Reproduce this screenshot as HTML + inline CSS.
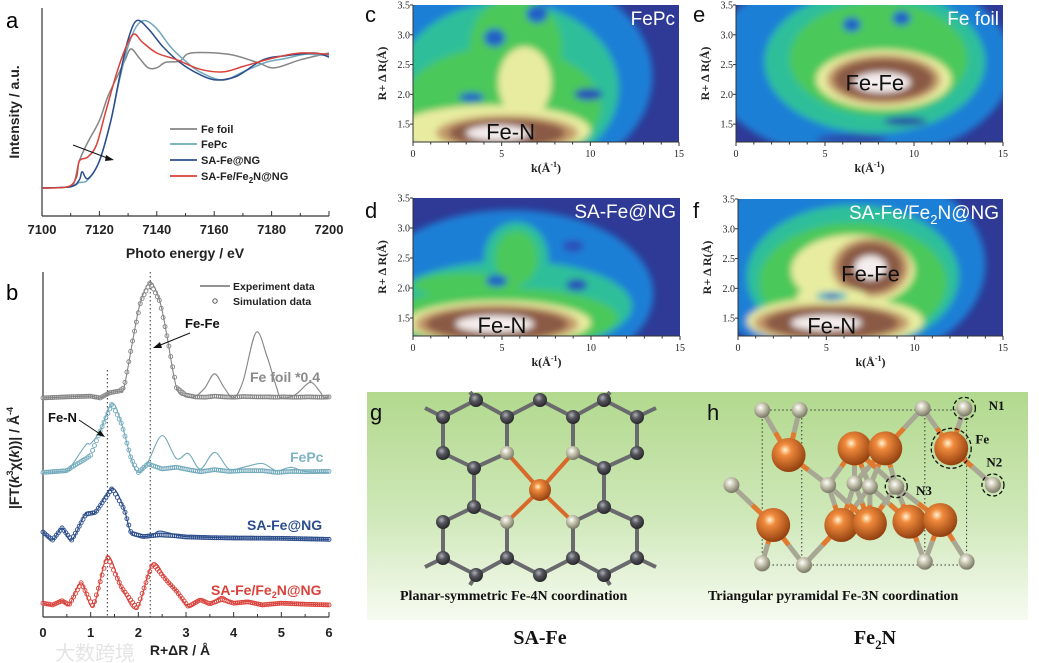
<!DOCTYPE html>
<html><head><meta charset="utf-8"><style>
html,body{margin:0;padding:0;background:#fff;}
svg{display:block;font-family:"Liberation Sans",sans-serif;}
</style></head><body>
<svg id="fig" width="1039" height="663" viewBox="0 0 1039 663" xmlns="http://www.w3.org/2000/svg">
<defs>
<filter id="blur" x="-20%" y="-20%" width="140%" height="140%"><feGaussianBlur stdDeviation="3.5"/></filter>
<linearGradient id="greenbg" x1="0" y1="0" x2="0" y2="1">
<stop offset="0" stop-color="#b2d98e"/><stop offset="0.55" stop-color="#cfe8b9"/><stop offset="1" stop-color="#f7fbf2"/></linearGradient>
<radialGradient id="feball" cx="0.4" cy="0.35" r="0.7"><stop offset="0" stop-color="#fff3d0"/><stop offset="0.25" stop-color="#f08a3c"/><stop offset="1" stop-color="#8a3a0c"/></radialGradient>
<radialGradient id="nball" cx="0.4" cy="0.35" r="0.7"><stop offset="0" stop-color="#ffffff"/><stop offset="0.4" stop-color="#c8c6b0"/><stop offset="1" stop-color="#6e6c5c"/></radialGradient>
<radialGradient id="cball" cx="0.4" cy="0.35" r="0.7"><stop offset="0" stop-color="#b0b0b8"/><stop offset="0.4" stop-color="#55555c"/><stop offset="1" stop-color="#202024"/></radialGradient>
</defs>
<g id="panelA"></g>
<g id="panelB"></g>
<g id="heat"></g>
<g id="models"></g>
</svg>
<script>
// ---------- Panel a data ----------
const aFeFoilE=[7100,7108,7111,7113,7116,7120,7123,7127,7129,7131,7134,7137,7140,7143,7148,7152,7165,7175,7181,7190,7200];
const aFeFoilV=[0,0.005,0.03,0.2,0.34,0.5,0.68,0.86,0.95,1.03,0.96,0.89,0.89,0.93,0.94,1.0,0.99,0.93,0.89,0.95,1.0];
const aFePcE=[7100,7110,7113,7116,7120,7124,7127,7130,7133,7136,7140,7145,7150,7155,7163,7170,7178,7185,7192,7200];
const aFePcV=[0,0.01,0.04,0.06,0.2,0.5,0.8,1.05,1.2,1.24,1.18,1.04,0.94,0.86,0.8,0.86,0.93,0.96,0.99,0.98];
const aSAE=[7100,7110,7113,7114,7116,7120,7124,7127,7130,7133,7137,7142,7148,7155,7161,7168,7177,7185,7195,7200];
const aSAV=[0,0.01,0.06,0.12,0.07,0.2,0.5,0.82,1.1,1.24,1.18,1.05,0.93,0.84,0.8,0.83,0.95,0.98,1.0,0.97];
const aRedE=[7100,7109,7112,7113,7116,7119,7122,7126,7129,7132,7135,7140,7147,7155,7163,7170,7180,7190,7200];
const aRedV=[0,0.01,0.08,0.2,0.23,0.32,0.55,0.85,1.03,1.14,1.08,1.0,0.95,0.88,0.86,0.9,0.96,1.0,0.99];
const aTicks=[7100,7120,7140,7160,7180,7200];
// ---------- Panel b data ----------
const bFoilR=[0,0.5,1.0,1.2,1.4,1.6,1.7,1.9,2.05,2.25,2.45,2.6,2.8,3.0,3.2,3.4,3.6,3.8,4.0,4.2,4.47,4.7,4.9,5.0,5.3,5.6,5.8,5.9,6.0];
const bFoilExp=[0,0.3,0.5,0,1.5,2,3,18,28,33.5,28,18,3,0.5,0.5,3,7,3,0,5,19,12,3,0,1,4.5,2,0,0.5];
const bFoilFit=[0,0.3,0.5,0,1.5,2,3,18,28,33.5,28,18,3,0.8,0.3,0.2,0.5,0.3,0.2,0.4,0.3,0.3,0.2,0.3,0.2,0.3,0.2,0.2,0.3];
const bPcR=[0,0.5,0.6,0.9,1.0,1.2,1.45,1.65,1.85,2.0,2.2,2.5,2.8,3.05,3.3,3.6,3.9,4.2,4.6,4.9,5.2,5.5,6.0];
const bPcExp=[0,0.5,2,8,8.4,12,20,14,4,0,3,10.7,4,5.5,1,5.8,1,1.5,2.6,0.5,1.5,0.3,0];
const bPcFit=[0,0.5,1.5,4,5,12,20,14,4,0,2.5,1,1.5,0.8,0.2,0.8,0.3,0.5,0.5,0,0.3,0.2,0.3];
const bSAR=[0,0.2,0.4,0.6,0.9,1.1,1.45,1.7,1.85,2.1,2.3,2.45,2.8,3.0,3.5,4.0,5.0,6.0];
const bSAExp=[2.3,0,3.5,0,7.8,8,15,9,2,1,1.5,2.6,1.5,1,0.8,0.6,0.5,0.2];
const bSAFit=[2.3,0,3.5,0,7.5,8,15,9,2,1,1.3,1.5,1.2,0.9,0.7,0.6,0.5,0.2];
const bRedR=[0,0.2,0.4,0.55,0.8,1.05,1.35,1.65,1.97,2.3,2.6,2.8,3.05,3.3,3.5,3.75,4.0,4.3,4.6,5.0,5.5,6.0];
const bRedExp=[0.5,0,1.2,0,6.4,-0.5,14,5,-1,12,7,4,-0.5,1.5,0.3,2.5,0.5,1,0,0.5,0.2,0];
const bRedFit=[0.5,0,1.2,0,6.4,-0.5,14,5,-1,12,7,4,-0.5,1.5,0.3,1.6,0.5,0.9,0,0.5,0.2,0];
const bOffsets=[63.5,41.9,22.3,3.5];
const bTicks=[0,1,2,3,4,5,6];

const NS="http://www.w3.org/2000/svg";
function el(tag,attrs,parent,txt){const e=document.createElementNS(NS,tag);for(const k in attrs)e.setAttribute(k,attrs[k]);if(txt!==undefined)e.textContent=txt;parent.appendChild(e);return e;}
function smooth(pts){let d="M"+pts[0][0].toFixed(1)+","+pts[0][1].toFixed(1);for(let i=0;i<pts.length-1;i++){const p0=pts[Math.max(0,i-1)],p1=pts[i],p2=pts[i+1],p3=pts[Math.min(pts.length-1,i+2)];const c1=[p1[0]+(p2[0]-p0[0])/6,p1[1]+(p2[1]-p0[1])/6],c2=[p2[0]-(p3[0]-p1[0])/6,p2[1]-(p3[1]-p1[1])/6];d+=" C"+c1[0].toFixed(1)+","+c1[1].toFixed(1)+" "+c2[0].toFixed(1)+","+c2[1].toFixed(1)+" "+p2[0].toFixed(1)+","+p2[1].toFixed(1);}return d;}
function interp(xs,ys,x){for(let i=0;i<xs.length-1;i++){if(x>=xs[i]&&x<=xs[i+1]){const t=(x-xs[i])/(xs[i+1]-xs[i]);return ys[i]+t*(ys[i+1]-ys[i]);}}return ys[ys.length-1];}

// ---------- Panel A ----------
const A=document.getElementById('panelA');
const ax=e=>42+(e-7100)/100*287, ay=v=>188-v*135;
let t;
t=el('text',{x:6,y:28,'font-size':22},A,'a');


el('line',{x1:42,y1:8,x2:42,y2:216,stroke:'#333','stroke-width':1.2},A);
el('line',{x1:42,y1:216,x2:329,y2:216,stroke:'#333','stroke-width':1.2},A);
for(let e=7100;e<=7200;e+=10){el('line',{x1:ax(e),y1:216,x2:ax(e),y2:e%20===0?211:213,stroke:'#333'},A);}
aTicks.forEach(v=>{const tk=el('text',{x:ax(v),y:234,'font-size':13,'font-weight':'bold','text-anchor':'middle',fill:'#222'},A,String(v));

});
t=el('text',{x:185,y:258,'font-size':14,'font-weight':'bold','text-anchor':'middle',fill:'#222'},A,'Photo energy / eV');


t=el('text',{x:0,y:0,'font-size':14,'font-weight':'bold','text-anchor':'middle',fill:'#222',transform:'translate(19,112) rotate(-90)'},A,'Intensity / a.u.');


const aSeries=[[aFeFoilE,aFeFoilV,'#858585','Fe foil'],[aFePcE,aFePcV,'#6fa9bb','FePc'],[aSAE,aSAV,'#2b4d8c','SA-Fe@NG'],[aRedE,aRedV,'#d9413a','SA-Fe/Fe2N@NG']];
aSeries.forEach((s,i)=>{const p=el('path',{d:smooth(s[0].map((e,j)=>[ax(e),ay(s[1][j])])),fill:'none',stroke:s[2],'stroke-width':1.5},A);


const ly=[129,144,160,176][i];
const lg=el('g',{},A);


el('line',{x1:170,y1:ly,x2:197,y2:ly,stroke:s[2],'stroke-width':1.8},lg);
const tx=el('text',{x:201,y:ly+4,'font-size':11,'font-weight':'bold',fill:'#222'},lg);
if(i===3){tx.textContent='SA-Fe/Fe';el('tspan',{'font-size':8,dy:3},tx,'2');el('tspan',{dy:-3},tx,'N@NG');}else tx.textContent=s[3];});
el('line',{x1:73,y1:145,x2:110,y2:159,stroke:'#111','stroke-width':1},A);
el('path',{d:'M114,160 L106,155 L105,161 Z',fill:'#111'},A);

// ---------- Panel B ----------
const B=document.getElementById('panelB');
const bx=r=>43+r/6*286, by=v=>617-v*3.45;
t=el('text',{x:6,y:300,'font-size':22},B,'b');


el('line',{x1:43,y1:272,x2:43,y2:617,stroke:'#333','stroke-width':1.2},B);
el('line',{x1:43,y1:617,x2:329,y2:617,stroke:'#333','stroke-width':1.2},B);
for(let r=0;r<=6.001;r+=0.5){el('line',{x1:bx(r),y1:617,x2:bx(r),y2:Math.abs(r-Math.round(r))<0.01?612:614,stroke:'#333'},B);}
bTicks.forEach(v=>{const tk=el('text',{x:bx(v),y:637,'font-size':13,'font-weight':'bold','text-anchor':'middle',fill:'#222'},B,String(v));

});
t=el('text',{x:180,y:655,'font-size':14,'font-weight':'bold','text-anchor':'middle',fill:'#222'},B,'R+ΔR / Å');


t=el('text',{x:0,y:0,'font-size':14,'font-weight':'bold','text-anchor':'middle',fill:'#222',transform:'translate(19,458) rotate(-90)'},B);


t.textContent='|FT(';el('tspan',{'font-style':'italic'},t,'k');el('tspan',{'font-size':9,dy:-6},t,'3');el('tspan',{dy:6},t,'χ(');el('tspan',{'font-style':'italic'},t,'k');el('tspan',{},t,'))| / Å');el('tspan',{'font-size':9,dy:-6},t,'-4');
el('line',{x1:bx(1.35),y1:370,x2:bx(1.35),y2:617,stroke:'#333','stroke-dasharray':'1.5,2.5'},B);
el('line',{x1:bx(2.25),y1:272,x2:bx(2.25),y2:617,stroke:'#333','stroke-dasharray':'1.5,2.5'},B);
const bSeries=[[bFoilR,bFoilExp,bFoilFit,'#858585'],[bPcR,bPcExp,bPcFit,'#73aabb'],[bSAR,bSAExp,bSAFit,'#2b4d8c'],[bRedR,bRedExp,bRedFit,'#d9413a']];
bSeries.forEach((s,i)=>{const off=bOffsets[i];
const p=el('path',{d:smooth(s[0].map((r,j)=>[bx(r),by(s[1][j]+off)])),fill:'none',stroke:s[3],'stroke-width':1.1},B);


const g=el('g',{fill:'none',stroke:s[3],'stroke-width':0.9},B);


for(let r=0;r<=6.0001;r+=0.04){el('circle',{cx:bx(r),cy:by(interp(s[0],s[2],r)+off),r:2},g);}});
el('line',{x1:200,y1:286,x2:230,y2:286,stroke:'#555','stroke-width':1.2},B);
el('text',{x:233,y:290,'font-size':10.5,'font-weight':'bold',fill:'#222'},B,'Experiment data');
el('circle',{cx:215,cy:301,r:2.2,fill:'none',stroke:'#555'},B);
el('text',{x:233,y:305,'font-size':10.5,'font-weight':'bold',fill:'#222'},B,'Simulation data');
el('text',{x:250,y:382,'font-size':14,'font-weight':'bold',fill:'#8a8a8a'},B,'Fe foil *0.4');
el('text',{x:290,y:462,'font-size':14,'font-weight':'bold',fill:'#7fb3c2'},B,'FePc');
el('text',{x:247,y:530,'font-size':14,'font-weight':'bold',fill:'#2b4d8c'},B,'SA-Fe@NG');
const rl=el('text',{x:211,y:595,'font-size':14,'font-weight':'bold',fill:'#d9413a'},B,'SA-Fe/Fe');el('tspan',{'font-size':9,dy:3},rl,'2');el('tspan',{dy:-3},rl,'N@NG');
el('text',{x:185,y:328,'font-size':13,'font-weight':'bold',fill:'#111'},B,'Fe-Fe');
el('line',{x1:190,y1:333,x2:158,y2:346,stroke:'#111'},B);el('path',{d:'M153,348 L160,342 L162,348 Z',fill:'#111'},B);
el('text',{x:48,y:422,'font-size':13,'font-weight':'bold',fill:'#111'},B,'Fe-N');
el('line',{x1:79,y1:420,x2:100,y2:434,stroke:'#111'},B);el('path',{d:'M105,437 L97,435 L100,430 Z',fill:'#111'},B);
el('text',{x:55,y:660,'font-size':20,fill:'#e4e4e4','font-family':'"Liberation Sans","Noto Sans CJK SC",sans-serif'},B,'大数跨境');

// ---------- Wavelet heatmaps ----------
const H=document.getElementById('heat');
const panels=[
{id:'c',name:'FePc',x0:413,x1:679,y0:5,y1:142,lx:365,ly:22,
 blobs:[['#1f7fd6',5.5,2.3,8,1.8],['#2fbf9a',5.3,2.1,6.3,1.45],['#4cc85a',5,1.8,5.6,1.0],['#4cc85a',5.8,2.8,2.6,0.85],['#e8eca0',4.5,1.4,5.5,0.42],['#e8eca0',6.3,2.2,1.5,0.6],['#c49a6a',5.3,1.35,4,0.3],['#8a5a44',5.3,1.35,3.3,0.24],['#f5eeee',4.8,1.35,1.8,0.13],['#2060c8',4.6,2.95,0.6,0.15],['#2060c8',7,3.35,0.6,0.15],['#2060c8',3.3,1.95,0.7,0.08],['#2a50b8',9.9,2.0,0.8,0.1]],
 tag:'Fe-N',tk:5.5,tr:1.38},
{id:'e',name:'Fe foil',x0:736,x1:1003,y0:5,y1:142,lx:693,ly:22,
 blobs:[['#1f7fd6',7,2.5,8.5,1.6],['#2fbf9a',7.8,2.55,6.2,1.2],['#4cc85a',8,2.6,5,0.95],['#e8eca0',8.3,2.25,3.8,0.5],['#c49a6a',8.3,2.25,3.2,0.42],['#8a5a44',8.3,2.25,2.8,0.35],['#f5eeee',8.2,2.2,1.6,0.17],['#2060c8',6.5,3.17,0.5,0.12],['#2060c8',9.3,3.28,0.5,0.12],['#2a45a8',9.5,1.55,1.2,0.07],['#2a45a8',6.5,1.25,2,0.08]],
 tag:'Fe-Fe',tk:7.8,tr:2.2},
{id:'d',name:'SA-Fe@NG',x0:413,x1:680,y0:198,y1:336,lx:365,ly:218,
 blobs:[['#1f7fd6',5.5,1.9,8,1.4],['#2fbf9a',5.5,1.7,6.8,0.75],['#2fbf9a',5.8,2.5,1.8,0.6],['#4cc85a',5,1.5,6.5,0.5],['#4cc85a',5.8,2.5,1.2,0.45],['#4cc85a',3,2.05,3,0.2],['#e8eca0',4.8,1.42,5.2,0.37],['#c49a6a',4.7,1.4,4.6,0.32],['#8a5a44',4.7,1.4,4,0.27],['#f5eeee',4.6,1.4,2.2,0.14],['#2060c8',4.7,2.12,0.6,0.1],['#2a50b8',9,2.7,0.6,0.1],['#2a50b8',9.2,2.05,0.6,0.1]],
 tag:'Fe-N',tk:5,tr:1.38},
{id:'f',name:'SA-Fe/Fe2N@NG',x0:738,x1:1003,y0:199,y1:336,lx:693,ly:218,
 blobs:[['#1f7fd6',6,2.4,8,1.7],['#2fbf9a',6.5,2.2,6,1.2],['#4cc85a',6.5,2.1,5.3,1.0],['#e8eca0',5.5,1.45,5,0.4],['#e8eca0',6.5,2.3,3.5,0.6],['#c49a6a',5.3,1.42,4.4,0.32],['#c49a6a',7.5,2.35,2.2,0.5],['#8a5a44',5.3,1.42,3.8,0.27],['#8a5a44',7.5,2.35,1.8,0.42],['#f5eeee',5,1.42,2,0.13],['#f5eeee',7.5,2.35,0.9,0.2],['#e8eca0',5.3,1.87,2,0.15],['#30b0c0',5.3,1.87,0.9,0.07],['#2050c0',5.3,1.87,0.4,0.035]],
 tag:'Fe-N',tk:5.3,tr:1.38,tag2:'Fe-Fe',tk2:7.5,tr2:2.25}
];
panels.forEach(P=>{
 const g=el('g',{},H);
 
 
 const kx=k=>P.x0+k/15*(P.x1-P.x0), ry=r=>P.y1-(r-1.2)/2.3*(P.y1-P.y0);
 const cp=el('clipPath',{id:'cl'+P.id},g);
 el('rect',{x:P.x0,y:P.y0,width:P.x1-P.x0,height:P.y1-P.y0},cp);
 el('rect',{x:P.x0,y:P.y0,width:P.x1-P.x0,height:P.y1-P.y0,fill:'#2e3a96'},g);
 const inner=el('g',{'clip-path':'url(#cl'+P.id+')'},g);
 const bl=el('g',{filter:'url(#blur)'},inner);
 P.blobs.forEach(b=>{el('ellipse',{cx:kx(b[1]),cy:ry(b[2]),rx:b[3]/15*(P.x1-P.x0),ry:b[4]/2.3*(P.y1-P.y0),fill:b[0]},bl);});
 el('text',{x:kx(P.tk),y:ry(P.tr)+8,'font-size':22,'text-anchor':'middle',fill:'#111'},inner,P.tag);
 if(P.tag2)el('text',{x:kx(P.tk2),y:ry(P.tr2)+8,'font-size':22,'text-anchor':'middle',fill:'#111'},inner,P.tag2);
 const nm=el('text',{x:P.x1-4,y:P.y0+20,'font-size':19,'text-anchor':'end',fill:'#fff'},inner);
 if(P.name==='SA-Fe/Fe2N@NG'){nm.textContent='SA-Fe/Fe';el('tspan',{'font-size':13,dy:5},nm,'2');el('tspan',{dy:-5},nm,'N@NG');}else nm.textContent=P.name;
 el('line',{x1:P.x0,y1:P.y1,x2:P.x1,y2:P.y1,stroke:'#333'},g);
 el('line',{x1:P.x0,y1:P.y0,x2:P.x0,y2:P.y1,stroke:'#333'},g);
 for(let k=0;k<=15;k++)el('line',{x1:kx(k),y1:P.y1,x2:kx(k),y2:P.y1+(k%5===0?4:2.5),stroke:'#333'},g);
 [0,5,10,15].forEach(k=>el('text',{x:kx(k),y:P.y1+15,'font-size':10,'text-anchor':'middle','font-family':'"Liberation Serif",serif',fill:'#222'},g,String(k)));
 [1.5,2.0,2.5,3.0,3.5].forEach(r=>{el('line',{x1:P.x0-3,y1:ry(r),x2:P.x0,y2:ry(r),stroke:'#333'},g);el('text',{x:P.x0-3,y:ry(r)+3.5,'font-size':10,'text-anchor':'end','font-family':'"Liberation Serif",serif',fill:'#222'},g,r.toFixed(1));});
 const xt=el('text',{x:(P.x0+P.x1)/2,y:P.y1+30,'font-size':12,'font-weight':'bold','text-anchor':'middle','font-family':'"Liberation Serif",serif',fill:'#222'},g,'k(Å');el('tspan',{'font-size':8,dy:-5},xt,'-1');el('tspan',{dy:5},xt,')');
 el('text',{x:0,y:0,'font-size':12,'font-weight':'bold','text-anchor':'middle','font-family':'"Liberation Serif",serif',fill:'#222',transform:'translate('+(P.x0-27)+','+((P.y0+P.y1)/2)+') rotate(-90)'},g,'R+ Δ R(Å)');
 const lb=el('text',{x:P.lx,y:P.ly,'font-size':22,fill:'#111'},H,P.id);
 
 
});

// ---------- Structure models ----------
const M=document.getElementById('models');
el('rect',{x:367,y:392,width:661,height:228,fill:'url(#greenbg)'},M);
const gg=el('g',{},M);


const gAtoms=[[476,400,'C'],[540,400,'C'],[604,400,'C'],[443,417,'C'],[507,417,'C'],[573,417,'C'],[637,417,'C'],[443,453,'C'],[507,453,'N'],[573,453,'N'],[637,453,'C'],[474,468,'C'],[604,468,'C'],[540,490,'Fe'],[474,507,'C'],[604,507,'C'],[443,522,'C'],[507,522,'N'],[573,522,'N'],[637,522,'C'],[443,558,'C'],[507,558,'C'],[573,558,'C'],[637,558,'C'],[476,575,'C'],[540,575,'C'],[604,575,'C']];
for(let i=0;i<gAtoms.length;i++)for(let j=i+1;j<gAtoms.length;j++){const a=gAtoms[i],b=gAtoms[j],d=Math.hypot(a[0]-b[0],a[1]-b[1]);if(d<51){const fe=a[2]==='Fe'||b[2]==='Fe';el('line',{x1:a[0],y1:a[1],x2:b[0],y2:b[1],stroke:fe?'#d8692a':'#6a6a6e','stroke-width':4},gg);}}
[[443,417,425,408],[443,558,425,567],[637,417,656,408],[637,558,656,567],[476,400,470,392],[604,400,610,392],[476,575,470,585],[604,575,610,585]].forEach(s=>el('line',{x1:s[0],y1:s[1],x2:s[2],y2:s[3],stroke:'#6a6a6e','stroke-width':4},gg));
gAtoms.forEach(a=>el('circle',{cx:a[0],cy:a[1],r:a[2]==='Fe'?11:7,fill:a[2]==='Fe'?'url(#feball)':a[2]==='N'?'url(#nball)':'url(#cball)'},gg));
el('text',{x:370,y:420,'font-size':22,fill:'#111'},M,'g');
el('text',{x:707,y:420,'font-size':22,fill:'#111'},M,'h');
const hg=el('g',{},M);


const cx=z=>360+z/2.275, cy=z=>385+z/3;
const hFe=[[975,210],[1125,190],[1195,190],[1345,190],[940,420],[1095,420],[1160,415],[1250,410],[1320,405]];
const hN=[[915,75],[1000,75],[1280,70],[1375,70],[845,300],[1065,300],[1125,295],[1160,305],[1220,305],[1440,300],[915,535],[1010,540],[1285,530],[1380,530]];
el('rect',{x:cx(915),y:cy(75),width:cx(1380)-cx(915),height:cy(540)-cy(75),fill:'none',stroke:'#333','stroke-dasharray':'1.5,2.5'},hg);
el('line',{x1:cx(1005),y1:cy(75),x2:cx(1005),y2:cy(540),stroke:'#333','stroke-dasharray':'1.5,2.5'},hg);
el('line',{x1:cx(1285),y1:cy(75),x2:cx(1285),y2:cy(540),stroke:'#333','stroke-dasharray':'1.5,2.5'},hg);
hN.forEach(n=>hFe.forEach(f=>{const d=Math.hypot(cx(n[0])-cx(f[0]),cy(n[1])-cy(f[1]));if(d<62){el('line',{x1:cx(n[0]),y1:cy(n[1]),x2:(cx(n[0])+cx(f[0]))/2,y2:(cy(n[1])+cy(f[1]))/2,stroke:'#a8a794','stroke-width':5},hg);el('line',{x1:(cx(n[0])+cx(f[0]))/2,y1:(cy(n[1])+cy(f[1]))/2,x2:cx(f[0]),y2:cy(f[1]),stroke:'#e07a30','stroke-width':5},hg);}}));
hN.forEach(n=>el('circle',{cx:cx(n[0]),cy:cy(n[1]),r:8,fill:'url(#nball)'},hg));
hFe.forEach(f=>el('circle',{cx:cx(f[0]),cy:cy(f[1]),r:17,fill:'url(#feball)'},hg));
[[1375,70,11],[1345,190,20],[1440,300,11],[1220,305,11]].forEach(c=>el('circle',{cx:cx(c[0]),cy:cy(c[1]),r:c[2],fill:'none',stroke:'#111','stroke-width':1.3,'stroke-dasharray':'4,2.5'},hg));
const lblF={'font-size':13,'font-weight':'bold','font-family':'"Liberation Serif",serif',fill:'#111'};
el('text',Object.assign({x:cx(1430),y:cy(60)+5},lblF),hg,'N1');
el('text',Object.assign({x:cx(1400),y:cy(160)+5},lblF),hg,'Fe');
el('text',Object.assign({x:cx(1425),y:cy(230)+5},lblF),hg,'N2');
el('text',Object.assign({x:cx(1265),y:cy(315)+5},lblF),hg,'N3');
const capF={'font-size':14,'font-weight':'bold','font-family':'"Liberation Serif",serif',fill:'#111'};
el('text',Object.assign({x:400,y:600},capF),M,'Planar-symmetric Fe-4N coordination');
el('text',Object.assign({x:708,y:600},capF),M,'Triangular pyramidal Fe-3N coordination');
el('text',{x:540,y:644,'font-size':20,'font-weight':'bold','text-anchor':'middle','font-family':'"Liberation Serif",serif',fill:'#111'},M,'SA-Fe');
const f2=el('text',{x:875,y:644,'font-size':20,'font-weight':'bold','text-anchor':'middle','font-family':'"Liberation Serif",serif',fill:'#111'},M,'Fe');el('tspan',{'font-size':13,dy:5},f2,'2');el('tspan',{dy:-5},f2,'N');
</script>
</body></html>
